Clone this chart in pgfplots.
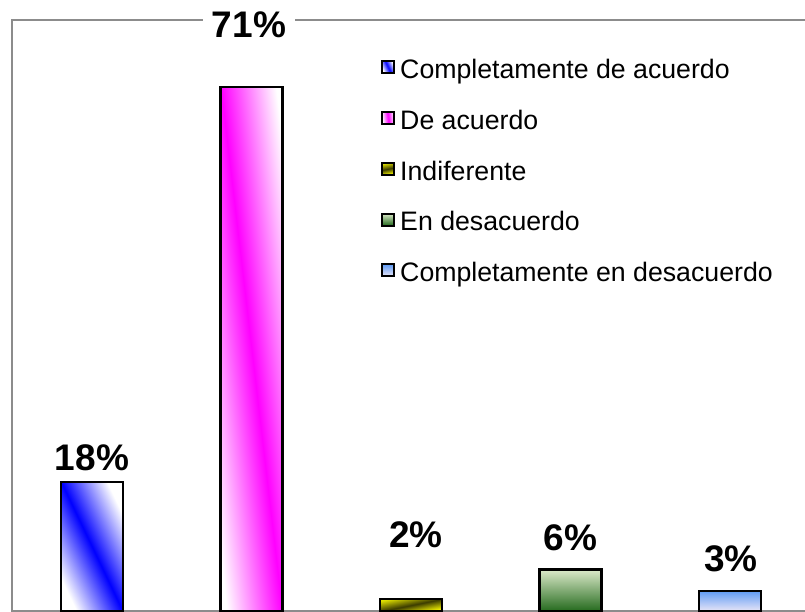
\documentclass[border=0pt]{standalone}
\usepackage{fontspec}
\setmainfont{Liberation Sans}
\usepackage{pgfplots}
\pgfplotsset{compat=1.18}
\definecolor{framegray}{RGB}{140,140,140}
\definecolor{grnlight}{RGB}{220,234,202}
\definecolor{grndark}{RGB}{35,105,28}
\definecolor{bluetop}{RGB}{95,155,245}
\definecolor{bluebot}{RGB}{234,230,246}
\definecolor{yelldark}{RGB}{225,225,0}
\definecolor{yellmid}{RGB}{60,60,0}
\pgfplotsset{
  mybar/.style={ybar, bar shift=0pt, bar width=61.9pt, draw=black, line width=2.5pt,
    nodes near coords={\pgfmathprintnumber[fixed,precision=0,assume math mode=true]{\pgfplotspointmeta}\%},
    every node near coord/.append style={font=\bfseries\fontsize{37}{40}\selectfont, text=black, anchor=base, inner sep=0pt},
  },
  swatch/.style={legend image code/.code={\draw[black, line width=2pt, ##1] (0pt,-1.25pt) rectangle (12pt,10.75pt);}},
}
\begin{document}
\begin{tikzpicture}
\useasboundingbox (0pt,0pt) rectangle (805pt,612pt);
\begin{axis}[
  at={(12pt,0.5pt)}, anchor=south west,
  scale only axis, width=796pt, height=591.5pt,
  xmin=-0.5016, xmax=4.489, ymin=0, ymax=80.4,
  xtick=\empty, ytick=\empty, clip=false,
  axis line style={draw=framegray, line width=2.2pt},
  legend style={at={(0.4636,0.9347)}, anchor=north west, draw=none, fill=none,
    inner sep=0pt, row sep=24pt, column sep=5pt,
    font=\fontsize{26.7}{30}\selectfont,
    nodes={inner sep=0pt, text height=20pt, text depth=6.7pt}},
  legend cell align=left,
]
\addplot[mybar, left color=white, right color=white, middle color=blue, shading angle=115.5,
  swatch={top color=blue, bottom color=white, shading angle=45},
  every node near coord/.append style={yshift=11.7pt}] coordinates {(0,17.6)};
\addplot[mybar, left color=white, right color=white, middle color=magenta, shading angle=96.7,
  swatch={top color=magenta, bottom color=white, shading angle=45},
  every node near coord/.append style={yshift=49pt, xshift=-2.5pt, fill=white, inner xsep=9pt, inner ysep=4pt}] coordinates {(1,71.3)};
\addplot[mybar, top color=yelldark, bottom color=yellow, middle color=yellmid, shading angle=11.4,
  swatch={top color=black, bottom color=yellow, middle color=yellmid, shading angle=45},
  every node near coord/.append style={yshift=51.3pt, xshift=5pt}] coordinates {(2,1.7)};
\addplot[mybar, top color=grnlight, bottom color=grndark,
  swatch={top color=grnlight, bottom color=grndark},
  every node near coord/.append style={yshift=19.3pt}] coordinates {(3,5.7)};
\addplot[mybar, top color=bluetop, bottom color=bluebot,
  swatch={top color=bluetop, bottom color=bluebot},
  every node near coord/.append style={yshift=19pt, xshift=1pt}] coordinates {(4,2.8)};
\legend{Completamente de acuerdo, De acuerdo, Indiferente, En desacuerdo, Completamente en desacuerdo}
\end{axis}
\end{tikzpicture}
\end{document}
